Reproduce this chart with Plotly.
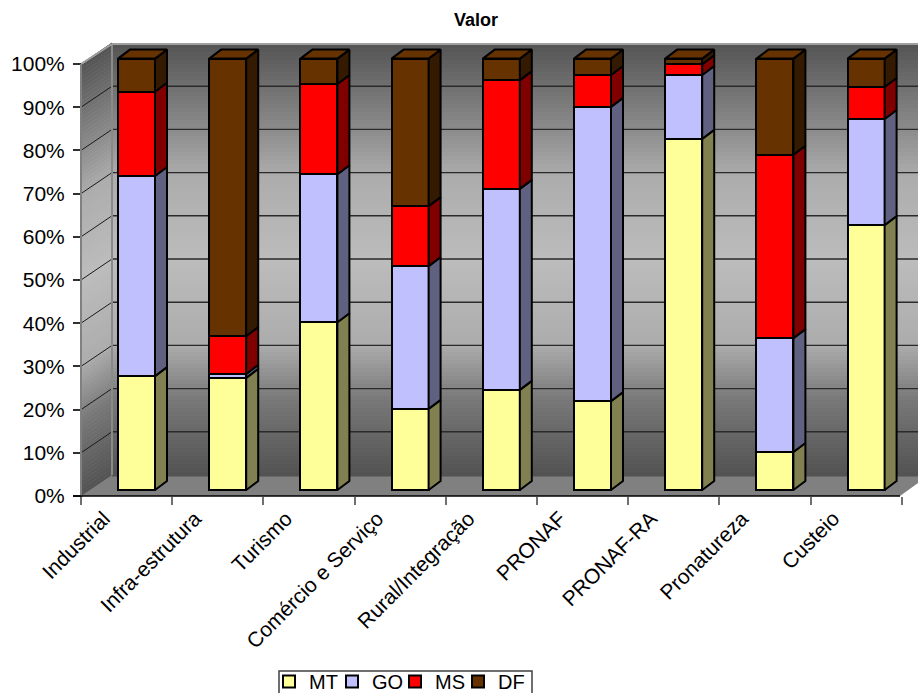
import plotly.graph_objects as go

categories = ["Industrial", "Infra-estrutura", "Turismo", "Comércio e Serviço", "Rural/Integração",
              "PRONAF", "PRONAF-RA", "Pronatureza", "Custeio"]
MT = [26.4, 26.0, 38.9, 18.8, 23.2, 20.6, 81.4, 8.8, 61.4]
GO = [46.4, 0.9, 34.3, 33.1, 46.6, 68.2, 14.8, 26.4, 24.6]
MS = [19.5, 8.8, 20.9, 13.9, 25.2, 7.4, 2.5, 42.5, 7.4]
DF = [7.7, 64.3, 5.9, 34.2, 5.0, 3.8, 1.3, 22.3, 6.6]
y_ticks = list(range(0, 101, 10))

W, H = 918, 693
PITCH = 91.2
X0, Y0, YS = 126.6, 496.0, 4.32        # front plane
BX0, BY0, BYS = 136.5, 490.0, 4.314    # bar plane
WALL_X, WALL_Y = 31.0, 21.0            # depth of the wall behind the front plane
BAR_W = 37 / PITCH
DX, DY = 12 / PITCH, 9 / BYS           # bar depth in axis units

series = [("MT", MT, "#FFFF99", "#808050", 18),
          ("GO", GO, "#C0C0FF", "#606080", 18),
          ("MS", MS, "#FF0000", "#800000", 18),
          ("DF", DF, "#663300", "#331A00", 34)]

def ux(px): return (px - X0) / PITCH
def uy(py): return (Y0 - py) / YS

fig = go.Figure()
# anchors the main axes
fig.add_trace(go.Scatter(x=list(range(len(categories))), y=[0] * len(categories), mode="none",
                         showlegend=False, hoverinfo="skip"))

cum = [0.0] * len(categories)
for name, vals, front, side, lw in series:
    fig.add_trace(go.Bar(name=name, x=list(range(len(categories))), y=vals, width=BAR_W, legendwidth=lw,
                         xaxis="x2", yaxis="y2", marker=dict(color=front, line=dict(color="black", width=2))))
    xs, ys = [], []
    for i, v in enumerate(vals):
        r = i + BAR_W / 2
        lo, hi = cum[i], cum[i] + v
        xs += [r, r + DX, r + DX, r, r, None]
        ys += [lo, lo + DY, hi + DY, hi, lo, None]
        cum[i] = hi
    fig.add_trace(go.Scatter(x=xs, y=ys, mode="lines", fill="toself", fillcolor=side,
                             line=dict(color="black", width=2), xaxis="x2", yaxis="y2",
                             showlegend=False, hoverinfo="skip"))
# top faces
xs, ys = [], []
for i, total in enumerate(cum):
    l, r = i - BAR_W / 2, i + BAR_W / 2
    xs += [l, r, r + DX, l + DX, l, None]
    ys += [total, total, total + DY, total + DY, total, None]
fig.add_trace(go.Scatter(x=xs, y=ys, mode="lines", fill="toself", fillcolor="#663300",
                         line=dict(color="black", width=2), xaxis="x2", yaxis="y2",
                         showlegend=False, hoverinfo="skip"))

# wall gradient
stops = [(44, 84), (130, 140), (175, 172), (260, 188), (345, 172), (400, 120), (475, 82)]
def shade(py):
    for (a, ca), (b, cb) in zip(stops, stops[1:]):
        if a <= py <= b:
            return round(ca + (cb - ca) * (py - a) / (b - a))
    return stops[-1][1]

shapes = []
left, back = 81.0, 81.0 + WALL_X
step = 4
for top in range(44, 475, step):
    c = shade(top + step / 2)
    col = f"rgb({c},{c},{c})"
    bot = top + step + 0.6
    shapes.append(dict(type="rect", xref="x", yref="y", x0=ux(back), x1=ux(W + 5), y0=uy(top), y1=uy(bot),
                       fillcolor=col, line_width=0, layer="below"))
    shapes.append(dict(type="path", xref="paper", yref="paper",
                       path=f"M{back/W},{1-top/H} L{back/W},{1-bot/H} L{left/W},{1-(bot+WALL_Y)/H} L{left/W},{1-(top+WALL_Y)/H} Z",
                       fillcolor=col, line_width=0, layer="below"))
# floor
shapes.append(dict(type="path", xref="paper", yref="paper",
                   path=f"M{left/W},{1-496/H} L{back/W},{1-475/H} L{W/W},{1-475/H} L{W/W},{1-483/H} L{900/W},{1-496/H} Z",
                   fillcolor="#808080", line_width=0, layer="below"))
# grid lines on walls
for v in y_ticks:
    yw = uy(Y0 - YS * v - WALL_Y)
    yf = v
    if 0 < v < 100:
        shapes.append(dict(type="line", xref="x", yref="y", x0=ux(back), x1=ux(W + 5), y0=yw, y1=yw,
                           line=dict(color="#2a2a2a", width=1.4), layer="below"))
    if v > 0:
        shapes.append(dict(type="line", xref="x", yref="y", x0=ux(left), x1=ux(back), y0=yf, y1=yw,
                           line=dict(color="#1a1a1a", width=1), layer="below"))
# wall frame
frame = "#a0a0a0"
shapes.append(dict(type="line", xref="x", yref="y", x0=ux(back), x1=ux(W + 5), y0=uy(44), y1=uy(44),
                   line=dict(color=frame, width=2), layer="below"))
shapes.append(dict(type="line", xref="x", yref="y", x0=ux(back), x1=ux(back), y0=uy(44), y1=uy(475),
                   line=dict(color="#8a8a8a", width=2), layer="below"))
shapes.append(dict(type="line", xref="x", yref="y", x0=ux(left), x1=ux(back), y0=100, y1=uy(44),
                   line=dict(color=frame, width=2), layer="below"))
# front axis lines
shapes.append(dict(type="line", xref="x", yref="y", x0=ux(left), x1=ux(left), y0=0, y1=100,
                   line=dict(color="#808080", width=2), layer="above"))
shapes.append(dict(type="line", xref="x", yref="y", x0=ux(73), x1=ux(900), y0=0, y1=0,
                   line=dict(color="black", width=1.5), layer="above"))
# legend frame
shapes.append(dict(type="rect", xref="paper", yref="paper", x0=279 / W, x1=532 / W, y0=1 - 700 / H, y1=1 - 671 / H,
                   fillcolor="white", line=dict(color="#404040", width=1.5), layer="below"))

FONT = "Liberation Sans, Arial, sans-serif"
fig.update_layout(
    width=W, height=H, margin=dict(l=0, r=0, t=0, b=0, autoexpand=False), paper_bgcolor="white",
    plot_bgcolor="rgba(0,0,0,0)",
    barmode="stack", bargap=0, shapes=shapes,
    font=dict(family=FONT, color="black"),
    title=dict(text="<b>Valor</b>", x=476 / W, y=1 - 20 / H, xanchor="center", yanchor="middle",
               font=dict(size=18, family=FONT, color="black")),
    xaxis=dict(range=[ux(0), ux(W)], domain=[0, 1], anchor="free", position=1 - 496 / H,
               tickmode="array", tickvals=[i - 0.25 for i in range(len(categories))], ticktext=categories,
               tickangle=-45, ticks="outside", ticklen=1, tickcolor="rgba(0,0,0,0)", tickfont=dict(size=21),
               showgrid=False, zeroline=False, showline=False,
               minor=dict(tickmode="array", tickvals=[i - 0.5 for i in range(len(categories) + 1)],
                          ticks="outside", ticklen=8, tickcolor="#707070", tickwidth=1.5, showgrid=False)),
    yaxis=dict(range=[uy(H), uy(0)], domain=[0, 1], anchor="free", position=81 / W,
               tickmode="array", tickvals=y_ticks, ticktext=[f"{v}%" for v in y_ticks],
               ticks="outside", ticklen=8, tickcolor="#303030", tickwidth=1.5, tickfont=dict(size=21),
               ticklabelstandoff=4,
               showgrid=False, zeroline=False, showline=False),
    xaxis2=dict(range=[(0 - BX0) / PITCH, (W - BX0) / PITCH], domain=[0, 1], overlaying="x", anchor="y2", visible=False),
    yaxis2=dict(range=[(BY0 - H) / BYS, BY0 / BYS], domain=[0, 1], overlaying="y", anchor="x2", visible=False),
    legend=dict(orientation="h", x=269 / W, y=1 - 662 / H, xanchor="left", yanchor="top",
                borderwidth=0, bgcolor="rgba(0,0,0,0)", font=dict(size=20, family=FONT),
                traceorder="normal", itemwidth=30),
    showlegend=True,
)
fig.write_html("out.html", post_script="document.body.style.margin='0';", config=dict(displayModeBar=False))
